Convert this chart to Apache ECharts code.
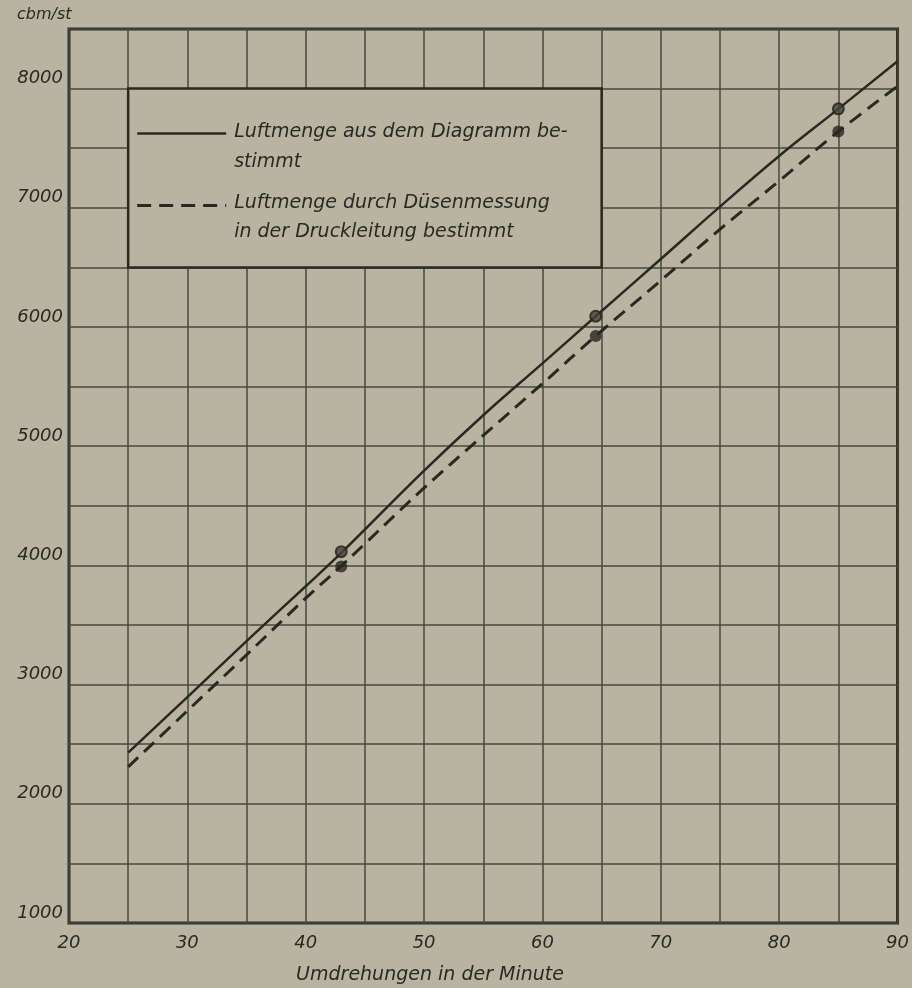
<!DOCTYPE html>
<html><head><meta charset="utf-8">
<script src="https://cdn.jsdelivr.net/npm/echarts@6/dist/echarts.min.js"></script>
<style>html,body{margin:0;padding:0;background:#b7b5a2}#c{width:912px;height:988px}</style>
</head><body><div id="c"></div>
<script>
// ---- data ----
const rpmSolid  = [25, 30, 35, 40, 43, 50, 55, 60, 64.5, 70, 75, 80, 85, 90];
const airSolid  = [2430, 2895, 3365, 3825, 4105, 4795, 5260, 5695, 6090, 6570, 7010, 7435, 7830, 8230];
const rpmDashed = [25, 30, 35, 40, 43, 50, 55, 60, 64.5, 70, 75, 80, 85, 90];
const airDashed = [2310, 2780, 3250, 3725, 3995, 4650, 5090, 5525, 5925, 6390, 6820, 7225, 7640, 8020];
const markRpm    = [43, 64.5, 85];
const markSolid  = [4115, 6090, 7830];
const markDashed = [3990, 5925, 7640];
const xTickLabels = [20, 30, 40, 50, 60, 70, 80, 90];
const yTickLabels = [1000, 2000, 3000, 4000, 5000, 6000, 7000, 8000];
const yUnit = 'cbm/st';
const xTitle = 'Umdrehungen in der Minute';
const legendSolid  = ['Luftmenge aus dem Diagramm be-', 'stimmt'];
const legendDashed = ['Luftmenge durch Düsenmessung', 'in der Druckleitung bestimmt'];

// ---- layout / style ----
const BG = '#b7b5a2', INK = '#2b2822', GRID = '#4a473d';
const FONT = '"DejaVu Sans"';
const legendBoxCorners = [[25, 8000], [65, 6500]];

const zip = (a, b) => a.map((v, i) => [v, b[i]]);
const chart = echarts.init(document.getElementById('c'));
chart.setOption({
  backgroundColor: BG,
  animation: false,
  grid: { left: 69, right: 14, top: 29, bottom: 65, show: true, borderColor: INK, borderWidth: 3, backgroundColor: 'transparent' },
  xAxis: {
    type: 'value', min: 20, max: 90, interval: 5,
    axisLine: { show: false }, axisTick: { show: false },
    splitLine: { show: true, lineStyle: { color: GRID, width: 1.5 } },
    axisLabel: { margin: 11, color: INK, fontFamily: FONT, fontStyle: 'italic', fontSize: 18,
      formatter: v => xTickLabels.includes(v) ? String(v) : '' }
  },
  yAxis: {
    type: 'value', min: 1000, max: 8500, interval: 500,
    axisLine: { show: false }, axisTick: { show: false },
    splitLine: { show: true, lineStyle: { color: GRID, width: 1.5 } },
    axisLabel: { margin: 6, color: INK, fontFamily: FONT, fontStyle: 'italic', fontSize: 18,
      verticalAlign: 'bottom', lineHeight: 20,
      formatter: v => yTickLabels.includes(v) ? String(v) : '' }
  },
  series: [
    { type: 'line', data: zip(rpmSolid, airSolid), smooth: 0.4, symbol: 'none',
      lineStyle: { color: INK, width: 2.5 }, z: 3,
      markArea: { silent: true, itemStyle: { color: BG, borderColor: INK, borderWidth: 2.5 },
        data: [[{ coord: legendBoxCorners[0] }, { coord: legendBoxCorners[1] }]] } },
    { type: 'line', data: zip(rpmDashed, airDashed), smooth: 0.4, symbol: 'none',
      lineStyle: { color: INK, width: 3, type: [14, 8] }, z: 3 },
    { type: 'scatter', data: zip(markRpm, markSolid), symbol: 'circle', symbolSize: 11,
      itemStyle: { color: '#47443b', borderColor: '#24211c', borderWidth: 2 }, z: 5 },
    { type: 'scatter', data: zip(markRpm, markDashed), symbol: 'circle', symbolSize: 12,
      itemStyle: { color: '#292620' }, z: 5 }
  ]
});

const [bx, by] = chart.convertToPixel({ gridIndex: 0 }, legendBoxCorners[0]);
const txt = (t, x, y, size, align) => ({ type: 'text', silent: true, z: 20,
  style: { text: t, x, y, fill: INK, font: 'italic ' + size + 'px ' + FONT,
    textAlign: align || 'left', textVerticalAlign: 'middle', align: align || 'left', verticalAlign: 'middle' } });
chart.setOption({
  graphic: [
    txt(yUnit, 17, 15, 16),
    txt(xTitle, 430, 975, 19, 'center'),
    { type: 'line', silent: true, z: 20, shape: { x1: bx + 9, y1: by + 45, x2: bx + 98, y2: by + 45 },
      style: { stroke: INK, lineWidth: 2.5 } },
    { type: 'line', silent: true, z: 20, shape: { x1: bx + 9, y1: by + 117, x2: bx + 98, y2: by + 117 },
      style: { stroke: INK, lineWidth: 3, lineDash: [14, 8] } },
    txt(legendSolid[0], bx + 106, by + 43, 19),
    txt(legendSolid[1], bx + 106, by + 73, 19),
    txt(legendDashed[0], bx + 106, by + 114, 19),
    txt(legendDashed[1], bx + 106, by + 143, 19)
  ]
});
</script></body></html>
